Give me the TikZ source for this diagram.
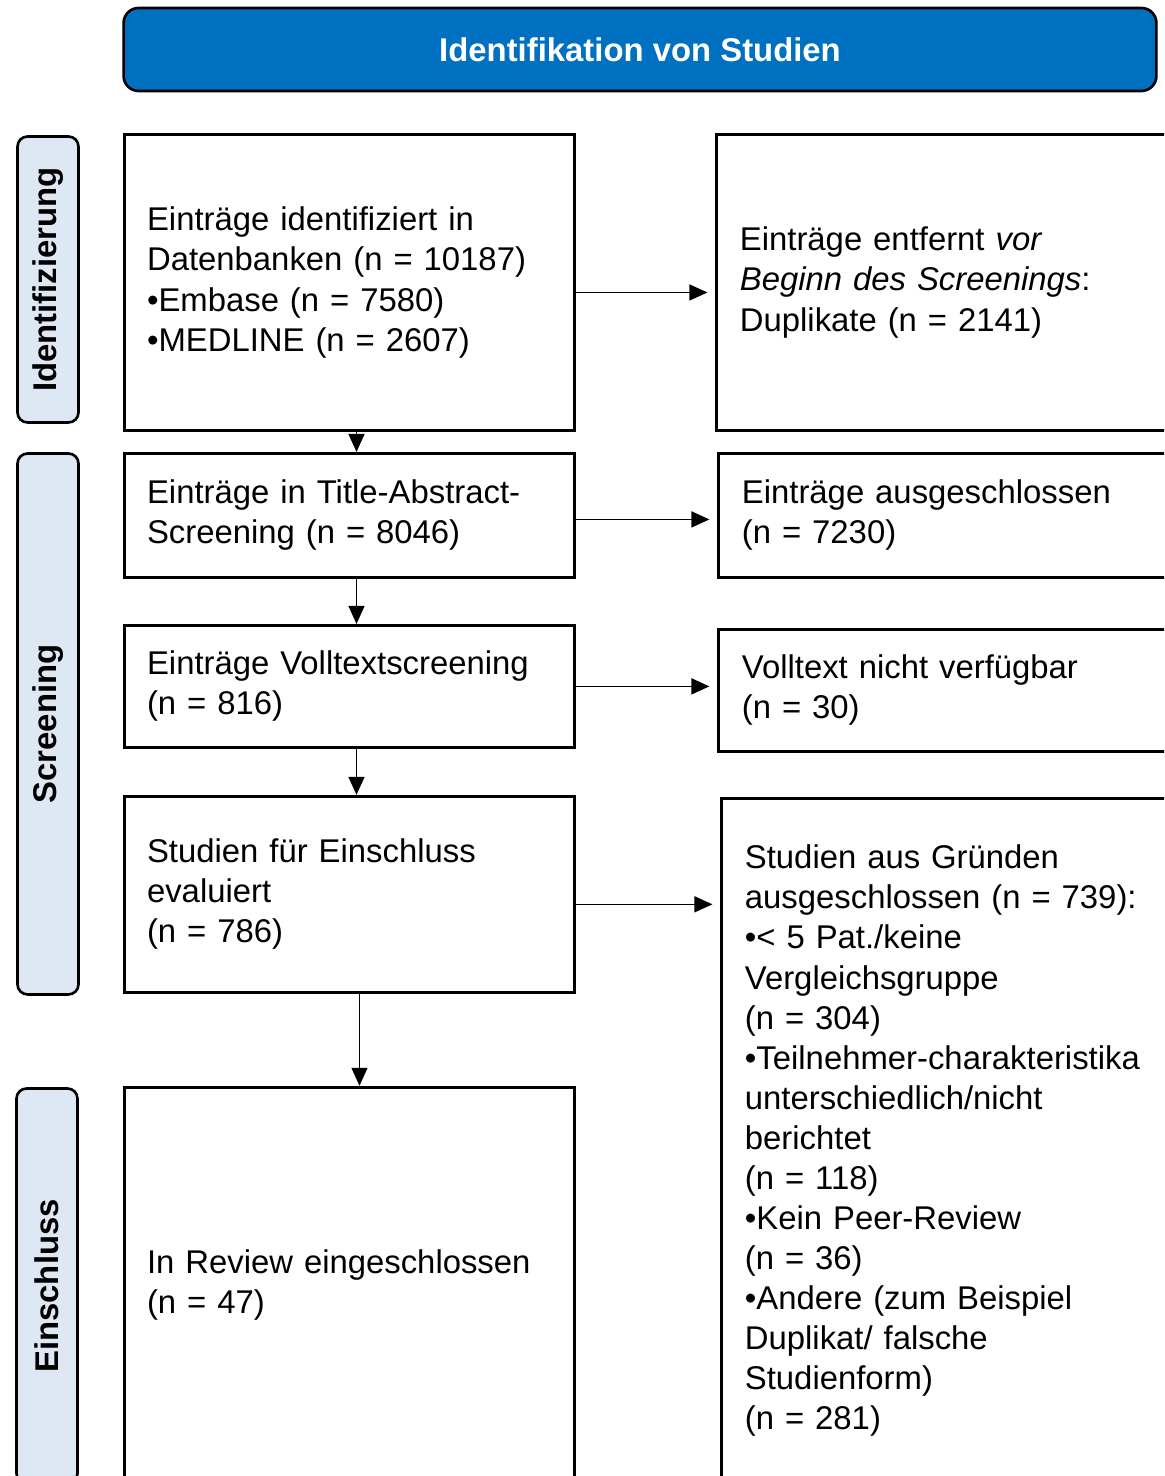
\documentclass[tikz,border=0pt]{standalone}
\usepackage{fontspec}
\setmainfont{Liberation Sans}
\usetikzlibrary{shapes,arrows.meta,positioning}
\definecolor{headblue}{HTML}{0070C0}
\definecolor{phaseblue}{HTML}{DEE8F5}
\tikzstyle{record} = [rectangle, draw, line width=1.7pt, fill=white,
    text width=8.1cm, inner xsep=0.46cm, inner ysep=0.2cm, align=left,
    font=\fontsize{18.7}{22.8}\selectfont]
\tikzstyle{phase} = [rectangle, draw, fill=phaseblue, line width=1.5pt,
    rounded corners=0.2cm, minimum height=1.22cm, text centered, rotate=90,
    font=\bfseries\fontsize{18.7}{22.8}\selectfont]
\tikzstyle{banner} = [rectangle, draw, fill=headblue, line width=1.5pt,
    rounded corners=0.3cm, minimum width=20.66cm, minimum height=1.66cm,
    text=white, font=\bfseries\fontsize{18.7}{22.8}\selectfont]
\tikzstyle{flow} = [draw, line width=0.8pt, -{Triangle[length=0.36cm,width=0.32cm]}]

\begin{document}
\begin{tikzpicture}[x=0.02cm, y=0.02cm]
    \path[use as bounding box, clip] (0,0) rectangle (1164,1476);

    \node[banner] (title) at (640,1426.5) {Identifikation von Studien};

    \node[phase, minimum width=5.72cm] (phaseId) at (48,1196.5) {Identifizierung};
    \node[phase, minimum width=10.82cm] (phaseScreen) at (48,752) {Screening};
    \node[phase, minimum width=7.9cm] (phaseIncl) at (47,190) {Einschluss};

    \node[record, minimum height=5.92cm] (identified) at (349.5,1193.5)
        {Einträge identifiziert in\\Datenbanken (n = 10187)\\•Embase (n = 7580)\\•MEDLINE (n = 2607)};
    \node[record, minimum height=2.48cm, below=0.40cm of identified] (screened)
        {Einträge in Title-Abstract-\\Screening (n = 8046)};
    \node[record, minimum height=2.44cm, below=0.90cm of screened] (fulltext)
        {Einträge Volltextscreening\\(n = 816)};
    \node[record, minimum height=3.92cm, below=0.92cm of fulltext] (assessed)
        {Studien für Einschluss\\evaluiert\\(n = 786)};
    \node[record, minimum height=7.9cm, below=1.84cm of assessed] (included)
        {In Review eingeschlossen\\(n = 47)};

    \node[record, minimum height=5.92cm, right=2.78cm of identified] (duplicates)
        {Einträge entfernt \textit{vor}\\\textit{Beginn des Screenings}:\\Duplikate (n = 2141)};
    \node[record, minimum height=2.48cm, right=2.82cm of screened] (excluded)
        {Einträge ausgeschlossen\\(n = 7230)};
    \node[record, minimum height=2.44cm, right=2.82cm of fulltext, yshift=-0.08cm] (notAvailable)
        {Volltext nicht verfügbar\\(n = 30)};
    \node[record, text width=8.4cm, minimum height=13.7cm, right=2.88cm of assessed.north east,
        anchor=north west, yshift=-0.04cm] (reasons)
        {Studien aus Gründen\\ausgeschlossen (n = 739):\\•< 5 Pat./keine\\Vergleichsgruppe\\(n = 304)\\%
         •Teilnehmer-charakteristika\\unterschiedlich/nicht\\berichtet\\(n = 118)\\%
         •Kein Peer-Review\\(n = 36)\\•Andere (zum Beispiel\\Duplikat/ falsche\\Studienform)\\(n = 281)};

    \path[flow] ([xshift=0.14cm]identified.south) -- ([xshift=0.14cm]screened.north);
    \path[flow] ([xshift=0.14cm]screened.south) -- ([xshift=0.14cm]fulltext.north);
    \path[flow] ([xshift=0.14cm]fulltext.south) -- ([xshift=0.14cm]assessed.north);
    \path[flow] ([xshift=0.2cm]assessed.south) -- ([xshift=0.2cm]included.north);

    \path[flow, shorten >=0.16cm] ([yshift=-0.2cm]identified.east) -- ([yshift=-0.2cm]identified.east -| duplicates.west);
    \path[flow, shorten >=0.16cm] ([yshift=-0.08cm]screened.east) -- ([yshift=-0.08cm]screened.east -| excluded.west);
    \path[flow, shorten >=0.16cm] (fulltext.east) -- (fulltext.east -| notAvailable.west);
    \path[flow, shorten >=0.16cm] ([yshift=-0.2cm]assessed.east) -- ([yshift=-0.2cm]assessed.east -| reasons.west);
\end{tikzpicture}
\end{document}
